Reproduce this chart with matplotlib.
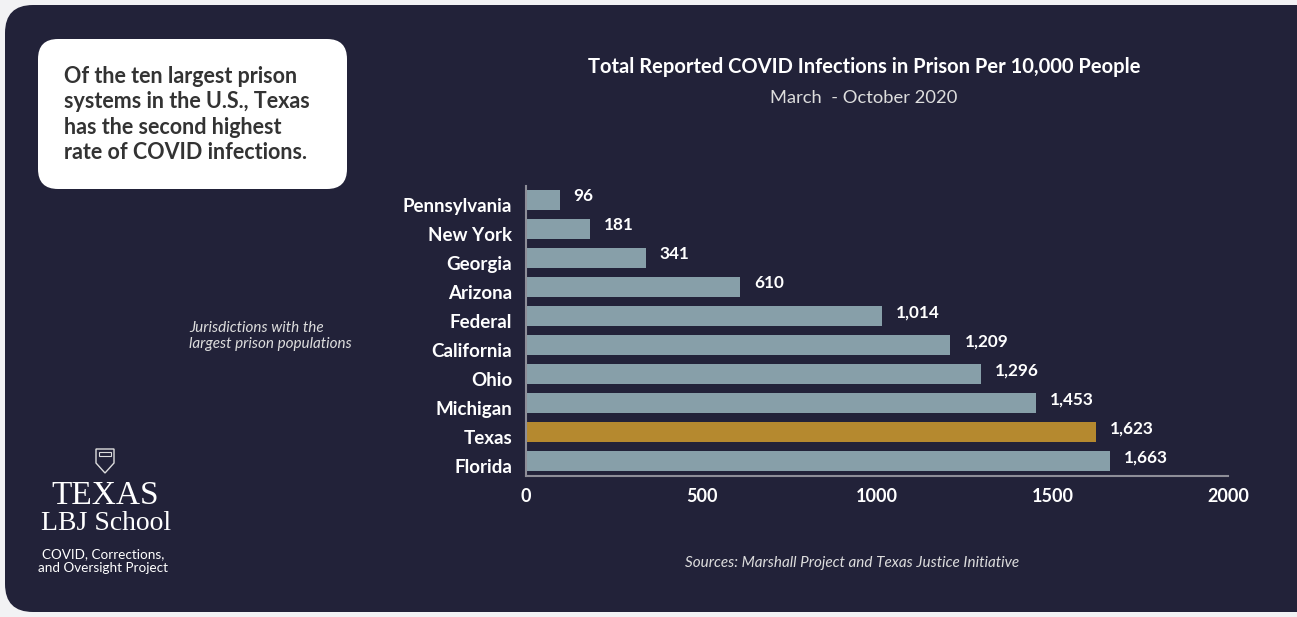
import numpy as np
import matplotlib.pyplot as plt
import matplotlib.transforms as mtransforms
from matplotlib.patches import FancyBboxPatch, Polygon, Rectangle

# Data
states = ['Pennsylvania', 'New York', 'Georgia', 'Arizona', 'Federal',
          'California', 'Ohio', 'Michigan', 'Texas', 'Florida']
rates = [96, 181, 341, 610, 1014, 1209, 1296, 1453, 1623, 1663]
rate_labels = ['96', '181', '341', '610', '1,014', '1,209', '1,296', '1,453', '1,623', '1,663']
xticks = [0, 500, 1000, 1500, 2000]

plt.rcParams['font.family'] = ['Lato', 'DejaVu Sans']

W, H = 1297, 617
fig = plt.figure(figsize=(W / 100, H / 100), dpi=100)
fig.patch.set_facecolor('#f2f2f4')

panel_col = '#222239'
bar_col = '#879fa9'
tex_col = '#b5892f'

# background panel and white note box (figure pixel coords)
bg = fig.add_axes([0, 0, 1, 1])
bg.set_xlim(0, W)
bg.set_ylim(H, 0)
bg.axis('off')
bg.add_patch(FancyBboxPatch((5, 5), 1291 + 30, 607, boxstyle='round,pad=0,rounding_size=28',
                            fc=panel_col, ec='none'))
bg.add_patch(FancyBboxPatch((38, 39), 309, 150, boxstyle='round,pad=0,rounding_size=20',
                            fc='white', ec='none'))
bg.text(64, 66, 'Of the ten largest prison\nsystems in the U.S., Texas\nhas the second highest\nrate of COVID infections.',
        color='#333333', fontsize=15.5, fontweight='bold', va='top', ha='left', linespacing=1.26)

bg.text(864, 67, 'Total Reported COVID Infections in Prison Per 10,000 People',
        color='white', fontsize=14.5, fontweight='bold', ha='center', va='center')
bg.text(864, 98, 'March  - October 2020', color='#dddddd', fontsize=13.2,
        ha='center', va='center')
bg.text(189, 336, 'Jurisdictions with the\nlargest prison populations', color='#dddddd',
        fontsize=11, style='italic', ha='left', va='center', linespacing=1.1)
bg.text(852, 563, 'Sources: Marshall Project and Texas Justice Initiative', color='#dddddd',
        fontsize=11, style='italic', ha='center', va='center')

# logo
shield = Polygon([(96, 449), (114, 449), (114, 463), (105, 473), (96, 463)],
                 closed=True, fc='none', ec='#dddddd', lw=1)
bg.add_patch(shield)
bg.add_patch(Rectangle((99, 452), 12, 4, fc='none', ec='#dddddd', lw=0.8))
bg.text(105, 496, 'TEXAS', color='white', fontsize=24, family='Liberation Serif',
        ha='center', va='center')
bg.text(106, 524, 'LBJ School', color='white', fontsize=20, family='Liberation Serif',
        ha='center', va='center')
bg.text(103, 561, 'COVID, Corrections,\nand Oversight Project', color='white', fontsize=9.7,
        ha='center', va='center', linespacing=1.2)

# bar chart
ax = fig.add_axes([526 / W, 141 / H, 702 / W, 290 / H])
ax.set_facecolor('none')
y = np.arange(len(states))
colors = [tex_col if s == 'Texas' else bar_col for s in states]
ax.barh(y, rates, height=0.7, color=colors)
for yi, v, lab in zip(y, rates, rate_labels):
    ax.text(v + 40, yi - 0.12, lab, color='white', fontsize=12.3, fontweight='bold',
            va='center', ha='left')

ax.set_xlim(0, 2000)
ax.set_ylim(9.52, -0.48)
ax.set_yticks(y)
ax.set_yticklabels(states)
ax.set_xticks(xticks)
ax.tick_params(axis='both', length=0, colors='white', labelsize=13.5)
ax.tick_params(axis='y', pad=10)
ax.tick_params(axis='x', labelsize=13, pad=9)
# state names sit a little below the bar centres
shift = mtransforms.ScaledTranslation(0, -5 / 100, fig.dpi_scale_trans)
for lab in ax.get_yticklabels():
    lab.set_fontweight('bold')
    lab.set_transform(lab.get_transform() + shift)
for lab in ax.get_xticklabels():
    lab.set_fontweight('bold')
for side in ['top', 'right']:
    ax.spines[side].set_visible(False)
for side in ['left', 'bottom']:
    ax.spines[side].set_color('#8e8e98')
    ax.spines[side].set_linewidth(1.5)

fig.savefig('out.png', dpi=100, facecolor=fig.get_facecolor())
